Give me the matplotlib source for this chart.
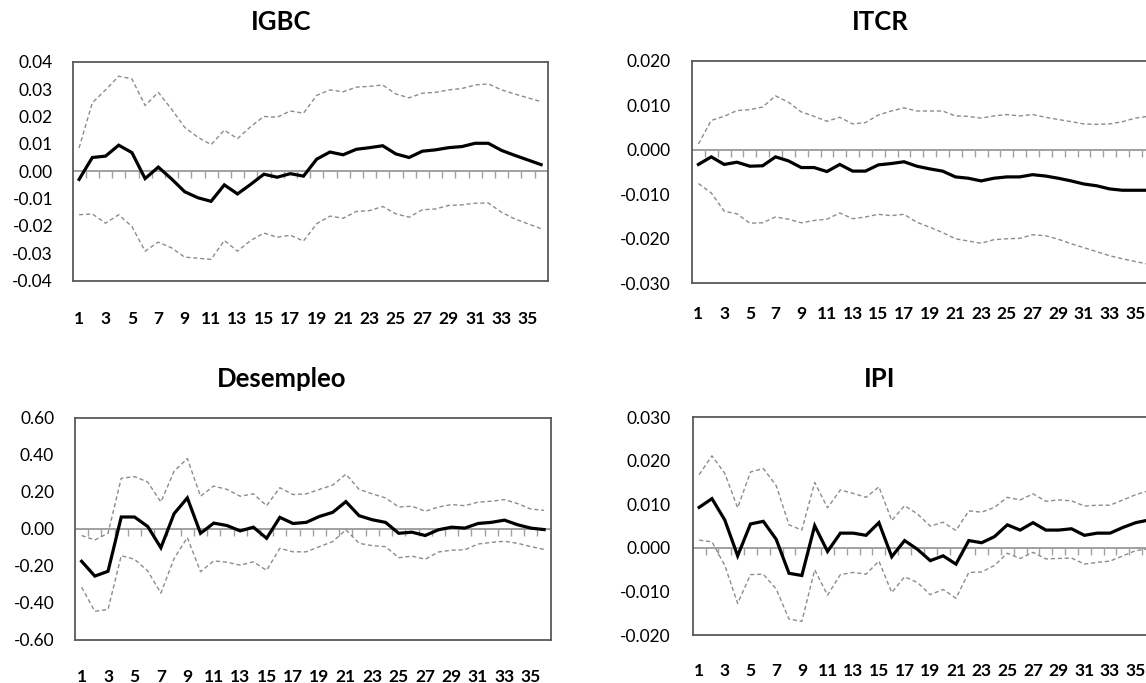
import numpy as np
import matplotlib
matplotlib.use("Agg")
import matplotlib.pyplot as plt
from matplotlib.ticker import NullFormatter

plt.rcParams['font.family'] = ['Lato', 'DejaVu Sans']

periods = np.arange(1, 37)

igbc_mid = [-0.003, 0.005, 0.0055, 0.0095, 0.0068, -0.0027, 0.0015, -0.0028, -0.0075, -0.0097,
            -0.011, -0.005, -0.0083, -0.0048, -0.0011, -0.0022, -0.0009, -0.0018, 0.0044, 0.007,
            0.006, 0.008, 0.0086, 0.0093, 0.0063, 0.005, 0.0073, 0.0078, 0.0086, 0.009,
            0.0102, 0.0102, 0.0076, 0.0058, 0.0041, 0.0024]
igbc_hi = [0.0085, 0.025, 0.0297, 0.0347, 0.0337, 0.024, 0.0288, 0.0227, 0.016, 0.0124,
           0.0097, 0.015, 0.0119, 0.0163, 0.020, 0.0197, 0.022, 0.0212, 0.0277, 0.0297,
           0.029, 0.0307, 0.031, 0.0315, 0.0282, 0.0268, 0.0285, 0.0288, 0.0297, 0.0302,
           0.0315, 0.0319, 0.0297, 0.0282, 0.0268, 0.0254]
igbc_lo = [-0.0159, -0.0156, -0.019, -0.0159, -0.0202, -0.0292, -0.0259, -0.028, -0.0314, -0.0318,
           -0.0322, -0.0253, -0.0292, -0.0253, -0.0226, -0.0241, -0.0234, -0.0255, -0.0192, -0.0164,
           -0.0172, -0.0147, -0.0144, -0.0129, -0.0156, -0.0168, -0.0141, -0.0138, -0.0125, -0.0123,
           -0.0117, -0.0116, -0.015, -0.0174, -0.0192, -0.021]

itcr_mid = [-0.0033, -0.0016, -0.0033, -0.0028, -0.0037, -0.0036, -0.0016, -0.0025, -0.004, -0.004,
            -0.0049, -0.0033, -0.0048, -0.0048, -0.0034, -0.0031, -0.0027, -0.0037, -0.0043, -0.0048,
            -0.0061, -0.0064, -0.007, -0.0064, -0.0061, -0.0061, -0.0056, -0.0059, -0.0064, -0.007,
            -0.0077, -0.0081, -0.0088, -0.0091, -0.0091, -0.0091]
itcr_hi = [0.0013, 0.0066, 0.0075, 0.0088, 0.009, 0.0096, 0.0121, 0.0107, 0.0085, 0.0075,
           0.0064, 0.0073, 0.0058, 0.0061, 0.0078, 0.0087, 0.0094, 0.0087, 0.0087, 0.0087,
           0.0076, 0.0075, 0.0071, 0.0076, 0.0079, 0.0076, 0.0079, 0.0073, 0.0068, 0.0063,
           0.0058, 0.0057, 0.0058, 0.0063, 0.0071, 0.0075]
itcr_lo = [-0.0076, -0.0097, -0.0138, -0.0144, -0.0165, -0.0164, -0.0151, -0.0156, -0.0164, -0.0159,
           -0.0156, -0.0142, -0.0155, -0.0151, -0.0145, -0.0148, -0.0145, -0.0163, -0.0174, -0.0186,
           -0.02, -0.0205, -0.021, -0.0202, -0.02, -0.0199, -0.0191, -0.0193, -0.0201, -0.0211,
           -0.022, -0.0229, -0.0238, -0.0245, -0.0251, -0.0257]

desem_mid = [-0.175, -0.255, -0.229, 0.064, 0.064, 0.013, -0.102, 0.082, 0.167, -0.024,
             0.031, 0.018, -0.011, 0.009, -0.051, 0.062, 0.029, 0.035, 0.067, 0.089,
             0.147, 0.071, 0.049, 0.035, -0.024, -0.018, -0.036, -0.005, 0.009, 0.004,
             0.029, 0.035, 0.047, 0.022, 0.004, -0.004]
desem_hi = [-0.036, -0.06, -0.024, 0.273, 0.282, 0.253, 0.145, 0.311, 0.38, 0.176,
            0.231, 0.213, 0.176, 0.189, 0.125, 0.222, 0.185, 0.189, 0.213, 0.236,
            0.295, 0.213, 0.189, 0.167, 0.118, 0.122, 0.095, 0.118, 0.131, 0.125,
            0.144, 0.149, 0.158, 0.136, 0.107, 0.1]
desem_lo = [-0.315, -0.445, -0.435, -0.145, -0.164, -0.227, -0.347, -0.16, -0.047, -0.231,
            -0.173, -0.18, -0.196, -0.178, -0.224, -0.105, -0.124, -0.124, -0.096, -0.069,
            -0.005, -0.078, -0.091, -0.096, -0.156, -0.147, -0.164, -0.125, -0.115, -0.113,
            -0.082, -0.073, -0.067, -0.078, -0.096, -0.111]

ipi_mid = [0.0093, 0.0113, 0.0064, -0.0018, 0.0055, 0.0061, 0.002, -0.0058, -0.0063, 0.0051,
           -0.0008, 0.0034, 0.0034, 0.0029, 0.0058, -0.002, 0.0017, -0.0003, -0.0029, -0.0018,
           -0.0037, 0.0017, 0.0012, 0.0026, 0.0053, 0.0041, 0.0058, 0.0041, 0.0041, 0.0044,
           0.0029, 0.0034, 0.0034, 0.0047, 0.0058, 0.0064]
ipi_hi = [0.0168, 0.0211, 0.0171, 0.0092, 0.0174, 0.0182, 0.0143, 0.0053, 0.0041, 0.015,
          0.0092, 0.0133, 0.0125, 0.0116, 0.014, 0.0063, 0.0097, 0.0078, 0.005, 0.0059,
          0.004, 0.0085, 0.0082, 0.0093, 0.0116, 0.011, 0.0124, 0.0107, 0.011, 0.0108,
          0.0096, 0.0098, 0.0098, 0.011, 0.0122, 0.0131]
ipi_lo = [0.0018, 0.0014, -0.004, -0.0127, -0.0061, -0.006, -0.0094, -0.0163, -0.0168, -0.005,
          -0.0108, -0.0061, -0.0056, -0.006, -0.003, -0.0102, -0.0066, -0.0079, -0.0107, -0.0095,
          -0.0115, -0.0056, -0.0055, -0.004, -0.0012, -0.0024, -0.001, -0.0025, -0.0024, -0.0023,
          -0.0037, -0.0033, -0.003, -0.0018, -0.0006, -0.0002]

W, H = 1146, 683


def px_axes(fig, left, top, right, bottom):
    # axes placed from pixel edges
    return fig.add_axes([left / W, 1 - bottom / H, (right - left) / W, (bottom - top) / H])


def panel(fig, box, title, title_xy, mid, hi, lo, yticks, fmt, ypad, xpad):
    ax = px_axes(fig, *box)
    ymin, ymax = yticks[0], yticks[-1]
    ax.plot(periods, hi, color='#8c8c8c', lw=1.0, ls=(0, (3, 2)), zorder=2)
    ax.plot(periods, lo, color='#8c8c8c', lw=1.0, ls=(0, (3, 2)), zorder=2)
    ax.plot(periods, mid, color='black', lw=2.3, zorder=3, solid_joinstyle='miter')
    ax.set_xlim(0.5, 36.5)
    ax.set_ylim(ymin, ymax)

    ax.set_yticks(yticks)
    ax.set_yticklabels([fmt.format(v) for v in yticks])
    ax.tick_params(axis='y', length=0, pad=ypad, labelsize=12.5, labelcolor='black')

    ax.set_xticks(periods[::2])
    ax.set_xticklabels([str(p) for p in periods[::2]], fontweight='bold')
    ax.tick_params(axis='x', length=0, pad=xpad, labelsize=12.5)

    for s in ax.spines.values():
        s.set_color('#595959')
        s.set_linewidth(1.3)

    # category axis drawn through zero, ticks between categories
    ax.axhline(0, color='#a0a0a0', lw=1.4, zorder=1)
    zero_frac = (0 - ymin) / (ymax - ymin)
    sec = ax.secondary_xaxis(zero_frac)
    sec.set_xticks(np.arange(1.5, 36.5, 1.0))
    sec.xaxis.set_ticks_position('bottom')
    sec.xaxis.set_major_formatter(NullFormatter())
    sec.tick_params(axis='x', direction='out', length=5, width=1.0, color='#a0a0a0',
                    labelbottom=False, labeltop=False, top=False)
    for s in sec.spines.values():
        s.set_visible(False)

    fig.text(title_xy[0] / W, 1 - title_xy[1] / H, title, ha='center', va='center',
             fontsize=18.5, fontweight='bold')
    return ax


fig = plt.figure(figsize=(W / 100, H / 100), dpi=100)

panel(fig, (72.5, 61.7, 547.7, 280.7), 'IGBC', (281, 22),
      igbc_mid, igbc_hi, igbc_lo, np.round(np.arange(-0.04, 0.041, 0.01), 2), '{:.2f}', 14, 22)
panel(fig, (692, 60.7, 1154.6, 283.3), 'ITCR', (880, 22),
      itcr_mid, itcr_hi, itcr_lo, np.round(np.arange(-0.03, 0.021, 0.01), 2), '{:.3f}', 15.5, 16)
panel(fig, (75, 417.7, 550.7, 640), 'Desempleo', (282, 379),
      desem_mid, desem_hi, desem_lo, np.round(np.arange(-0.6, 0.61, 0.2), 1), '{:.2f}', 15, 21)
panel(fig, (692.7, 417, 1155, 635.3), 'IPI', (880, 379),
      ipi_mid, ipi_hi, ipi_lo, np.round(np.arange(-0.02, 0.031, 0.01), 2), '{:.3f}', 16, 20)

fig.savefig('out.png', dpi=100)
